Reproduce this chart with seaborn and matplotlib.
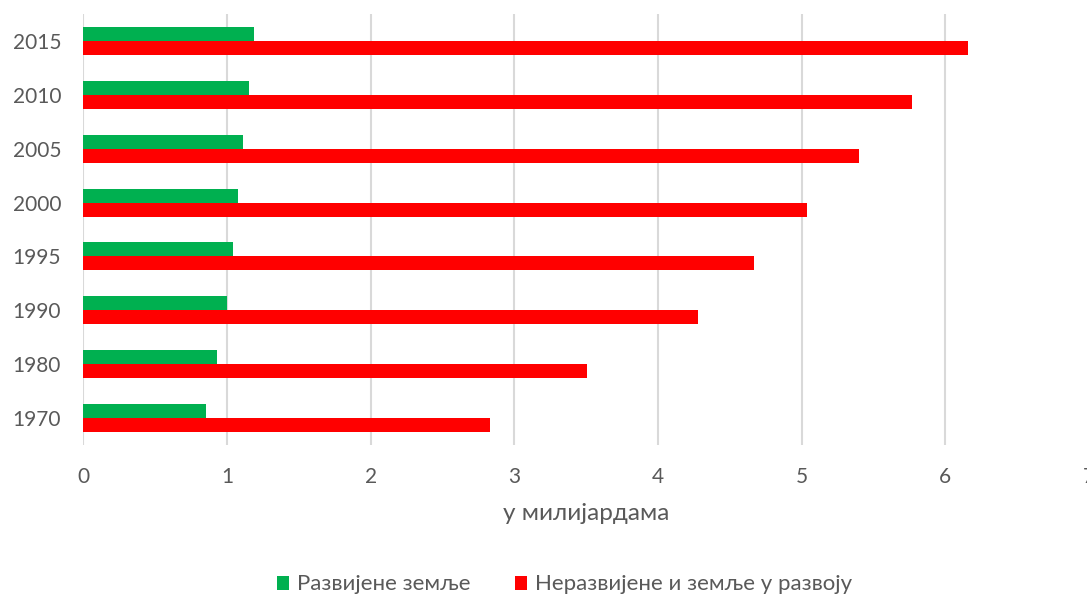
import matplotlib
matplotlib.use("Agg")
import matplotlib.pyplot as plt
from matplotlib.patches import Patch
import seaborn as sns
import pandas as pd

# Population, in billions, by year
years = ["2015", "2010", "2005", "2000", "1995", "1990", "1980", "1970"]
developed = [1.186, 1.153, 1.111, 1.074, 1.042, 1.002, 0.933, 0.852]
developing = [6.16, 5.77, 5.40, 5.04, 4.667, 4.28, 3.505, 2.832]
series_names = ["Развијене земље", "Неразвијене и земље у развоју"]
series_colors = ["#00B050", "#FF0000"]
x_ticks = [0, 1, 2, 3, 4, 5, 6, 7]
x_label = "у милијардама"

df = pd.DataFrame({
    "year": years * 2,
    "value": developed + developing,
    "group": [series_names[0]] * len(years) + [series_names[1]] * len(years),
})

sns.set_theme(style="white")
plt.rcParams["font.family"] = ["Lato", "DejaVu Sans"]

fig = plt.figure(figsize=(10.87, 5.94), dpi=100)
ax = fig.add_axes([0.0766, 0.2508, 0.9252, 0.7256])

sns.barplot(
    data=df, x="value", y="year", hue="group",
    order=years, hue_order=series_names,
    palette=series_colors, orient="h", width=0.52,
    saturation=1, linewidth=0, legend=False, ax=ax,
)

ax.set_xlim(0, 7)
ax.set_xticks(x_ticks)
ax.set_xticklabels([str(t) for t in x_ticks])
ax.grid(axis="x", color="#D9D9D9", linewidth=1.5)
ax.grid(axis="y", visible=False)
ax.set_axisbelow(True)
for s in ax.spines.values():
    s.set_visible(False)
ax.tick_params(axis="both", length=0, labelsize=15, colors="#595959")
ax.tick_params(axis="x", pad=16)
ax.tick_params(axis="y", pad=16)
ax.set_ylabel("")
ax.set_xlabel(x_label, fontsize=17.5, color="#595959", labelpad=11)

handles = [Patch(facecolor=c, edgecolor="none") for c in series_colors]
fig.legend(
    handles, series_names, loc="center", bbox_to_anchor=(564.5 / 1087, 1 - 584.5 / 594),
    ncol=2, frameon=False, fontsize=16, handlelength=0.54, handleheight=0.6,
    handletextpad=0.36, columnspacing=2.0, labelcolor="#595959",
)

fig.savefig("out.png", dpi=100)
